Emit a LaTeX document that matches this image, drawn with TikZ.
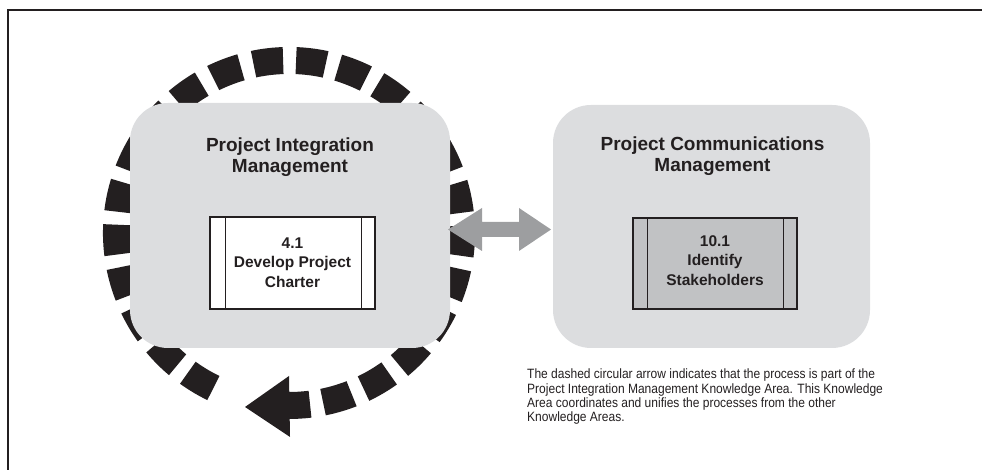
\documentclass[tikz,border=0pt]{standalone}
\usepackage{fontspec}
\setmainfont{Liberation Sans}
\newfontfamily\condfont[FakeStretch=0.89]{Liberation Sans}
\usetikzlibrary{calc}
\definecolor{areagray}{HTML}{DCDDDF}
\definecolor{procgray}{HTML}{C1C2C4}
\definecolor{arrowgray}{HTML}{9D9EA0}
\definecolor{inkblack}{HTML}{231F20}
\begin{document}
\begin{tikzpicture}[x=1pt,y=1pt,
  area/.style={fill=areagray, draw=none, rounded corners=38pt, inner sep=0},
  procbox/.style={draw=inkblack, line width=1.2pt, inner sep=0},
  barline/.style={draw=inkblack, line width=1.2pt},
  titletext/.style={font=\fontsize{19}{21}\selectfont\bfseries, align=center, text=inkblack},
  proctext/.style={font=\fontsize{15.5}{19.5}\selectfont\bfseries, align=center, text=inkblack},
  desctext/.style={font=\condfont\fontsize{13.5}{14}\selectfont, anchor=base west, inner sep=0, text=inkblack},
  ring/.style={draw=inkblack, line width=27pt, dash pattern=on 29.8pt off 13pt},
  ringstub/.style={draw=inkblack, line width=27pt},
]
\useasboundingbox (0,0) rectangle (982,470);
% frame
\coordinate (fa) at (8,0);
\coordinate (fb) at (8,460);
\coordinate (fc) at (982,460);
\draw[inkblack, line width=2pt] (fa) -- (fb) -- (fc);
% dashed circular arrow
\coordinate (rc) at (289,237);
\draw[ring] ([shift={(244:172.5)}]rc) arc[start angle=244, end angle=-79, radius=172.5];
\draw[ringstub] ([shift={(-83:172.5)}]rc) arc[start angle=-83, end angle=-90.5, radius=172.5];
\coordinate (hb) at ([shift={(-90:172.5)}]rc);
\fill[inkblack] ($(hb)+(0,29.5)$) -- ($(hb)+(-44,-1.5)$) -- ($(hb)+(1,-31.5)$) -- cycle;
% knowledge areas
\node[area, minimum width=320, minimum height=245] (pim) at (290,244.5) {};
\node[area, minimum width=317, minimum height=243] (pcm) at (711.5,243.5) {};
\node[titletext] (pimt) at (290,312.5) {Project Integration\\Management};
\node[titletext] (pcmt) at (712.5,313.5) {Project Communications\\Management};
% processes
\node[procbox, fill=white, minimum width=165, minimum height=92] (p41) at (292.5,207) {};
\draw[barline] ([xshift=16]p41.north west) -- ([xshift=16]p41.south west);
\draw[barline] ([xshift=-14]p41.north east) -- ([xshift=-14]p41.south east);
\node[proctext] (p41t) at (292.5,207.5) {4.1\\Develop Project\\Charter};
\node[procbox, fill=procgray, minimum width=164, minimum height=91] (p101) at (715,206.5) {};
\draw[barline] ([xshift=15]p101.north west) -- ([xshift=15]p101.south west);
\draw[barline] ([xshift=-14]p101.north east) -- ([xshift=-14]p101.south east);
\node[proctext] (p101t) at (715,209.5) {10.1\\Identify\\Stakeholders};
% double arrow
\coordinate (daL) at (448,240.5);
\coordinate (daR) at (551,240.5);
\fill[arrowgray] (daL) -- ++(34,21.5) -- ++(0,-14) -- ($(daR)+(-32,7.5)$) -- ++(0,14) -- (daR)
  -- ++(-32,-21.5) -- ++(0,14) -- ($(daL)+(34,-7.5)$) -- ++(0,-14) -- cycle;
% description
\node[desctext] (d1) at (527,91) {The dashed circular arrow indicates that the process is part of the};
\node[desctext] (d2) at (527,76) {Project Integration Management Knowledge Area. This Knowledge};
\node[desctext] (d3) at (527,62) {Area coordinates and unifies the processes from the other};
\node[desctext] (d4) at (527,48) {Knowledge Areas.};
\end{tikzpicture}
\end{document}
